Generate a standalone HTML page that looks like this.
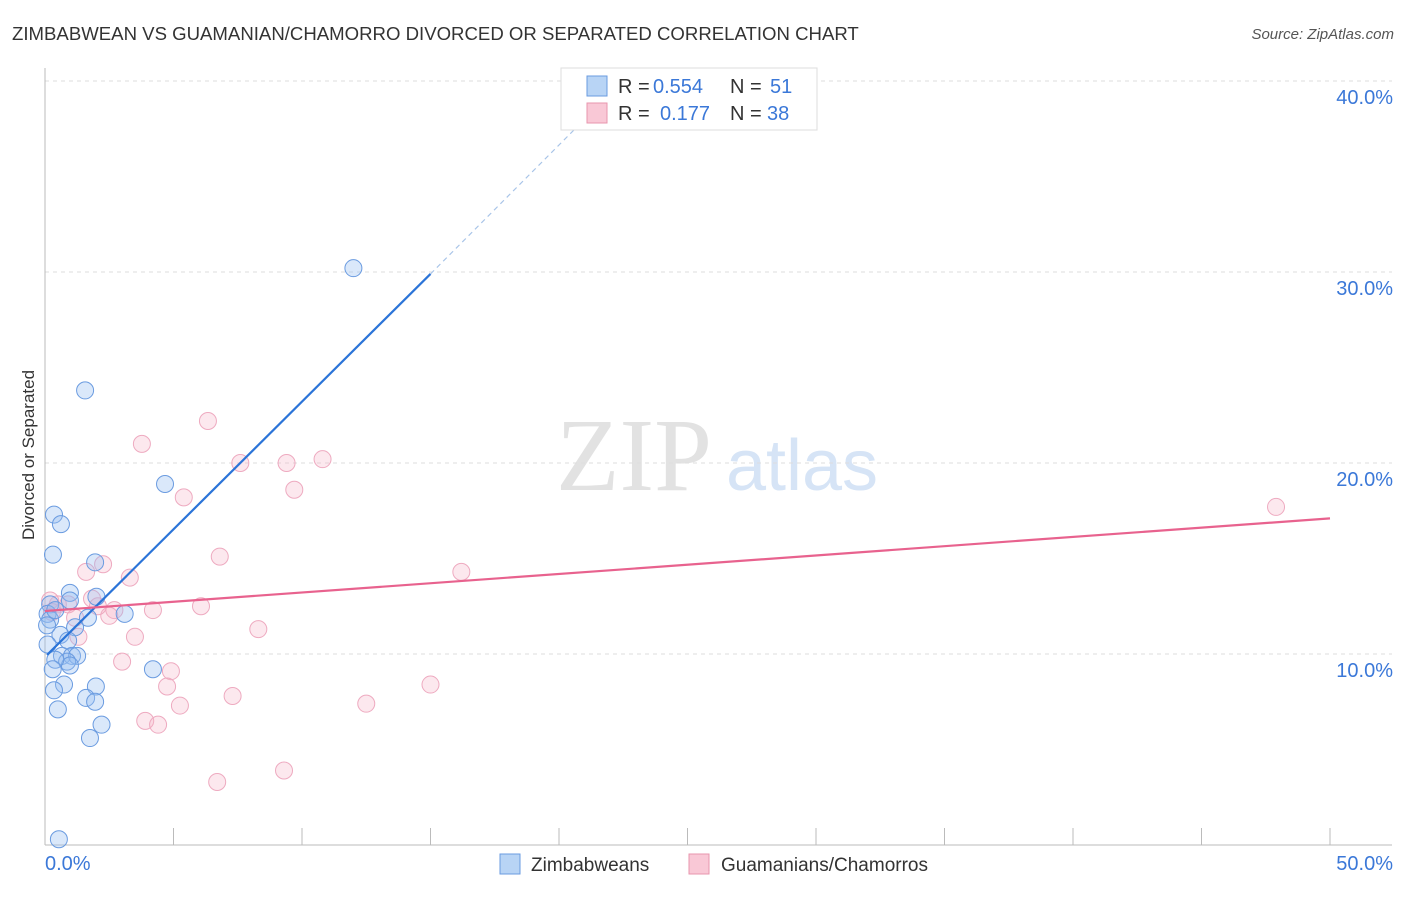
<!DOCTYPE html>
<html><head><meta charset="utf-8"><style>
body{margin:0;background:#fff;font-family:"Liberation Sans",sans-serif}
</style></head><body>
<svg width="1406" height="892" id="chart" style="font-family:'Liberation Sans',sans-serif">
<text x="12" y="40" font-size="18.6" fill="#333">ZIMBABWEAN VS GUAMANIAN/CHAMORRO DIVORCED OR SEPARATED CORRELATION CHART</text>
<text x="1394" y="39" font-size="15" fill="#555" text-anchor="end" font-style="italic">Source: ZipAtlas.com</text>
<text x="634" y="490" font-size="104" fill="#e2e2e2" style="font-family:'Liberation Serif',serif" text-anchor="middle">ZIP</text>
<text x="802" y="490" font-size="72" fill="#d6e4f6" text-anchor="middle">atlas</text>
<text transform="translate(34,455) rotate(-90)" font-size="17" fill="#333" text-anchor="middle">Divorced or Separated</text>
<g id="grid"></g><g id="axes"></g><g id="pts"></g><g id="lines"></g>
<g>
<rect x="561" y="68" width="256" height="62" fill="#fff" stroke="#ddd"/>
<rect x="587" y="76" width="20" height="20" fill="#b8d4f5" stroke="#6a9be0"/>
<rect x="587" y="103" width="20" height="20" fill="#f9c8d6" stroke="#e896ae"/>
<text x="618" y="93" font-size="20" fill="#333">R = <tspan x="653" fill="#3b78d8">0.554</tspan><tspan x="730">N = </tspan><tspan x="770" fill="#3b78d8">51</tspan></text>
<text x="618" y="120" font-size="20" fill="#333">R = <tspan x="660" fill="#3b78d8">0.177</tspan><tspan x="730">N = </tspan><tspan x="767" fill="#3b78d8">38</tspan></text>
</g>
<g>
<rect x="500" y="854" width="20" height="20" fill="#b8d4f5" stroke="#6a9be0"/>
<text x="531" y="871" font-size="19" fill="#333">Zimbabweans</text>
<rect x="689" y="854" width="20" height="20" fill="#f9c8d6" stroke="#e896ae"/>
<text x="721" y="871" font-size="19" fill="#333">Guamanians/Chamorros</text>
</g>
</svg>
<script>
const blueX=[12.0,1.56,4.67,0.35,0.62,0.31,1.95,0.97,2.0,0.97,3.1,1.67,0.2,0.1,0.2,0.4,0.6,1.17,0.9,0.1,0.66,1.05,1.25,0.86,0.97,0.4,0.3,4.2,0.74,1.98,0.35,1.6,1.95,0.5,2.2,1.75,0.54,0.08];
const blueY=[30.2,23.8,18.9,17.3,16.8,15.2,14.8,13.2,13.0,12.8,12.1,11.9,12.6,12.1,11.8,12.3,11.0,11.4,10.7,10.5,9.9,9.9,9.9,9.6,9.4,9.7,9.2,9.2,8.4,8.3,8.1,7.7,7.5,7.1,6.3,5.6,0.3,11.5];
const pinkX=[47.9,6.34,3.77,10.8,7.6,9.4,9.7,5.4,6.8,16.2,1.6,2.26,3.3,1.83,4.2,6.07,2.7,2.5,2.06,0.9,0.5,0.2,1.17,8.3,3.5,1.3,3.0,4.9,4.75,7.3,5.25,15.0,12.5,3.9,4.4,6.7,9.3,0.27];
const pinkY=[17.7,22.2,21.0,20.2,20.0,20.0,18.6,18.2,15.1,14.3,14.3,14.7,14.0,12.9,12.3,12.5,12.3,12.0,12.5,12.6,12.6,12.8,11.9,11.3,10.9,10.9,9.6,9.1,8.3,7.8,7.3,8.4,7.4,6.5,6.3,3.3,3.9,12.2];
const yTicks=[10,20,30,40];
const yTickLabels=["10.0%","20.0%","30.0%","40.0%"];
const xTicks=[0,5,10,15,20,25,30,35,40,45,50];
const blueLine=[[0.08,9.95],[15.0,29.9]];
const blueDash=[[15.0,29.9],[21.0,38.0]];
const pinkLine=[[0,12.25],[50,17.1]];
const X=v=>45+v*25.7, Y=v=>845-v*19.1;
const NS="http://www.w3.org/2000/svg";
function mk(p,t,a){const e=document.createElementNS(NS,t);for(const k in a)e.setAttribute(k,a[k]);document.getElementById(p).appendChild(e);return e;}
yTicks.forEach((t,i)=>{
 let g=mk('grid','line',{x1:45,x2:1392,y1:Y(t),y2:Y(t),stroke:'#ddd','stroke-dasharray':'4,4'});
 
 
 let l=mk('grid','text',{x:1393,y:Y(t)+23,'font-size':20,fill:'#3b78d8','text-anchor':'end'});l.textContent=yTickLabels[i];
 
 
});
let ya=mk('axes','line',{x1:45,x2:45,y1:68,y2:845,stroke:'#bbb'});


let xa=mk('axes','line',{x1:45,x2:1392,y1:845,y2:845,stroke:'#bbb'});


xTicks.forEach(t=>{let k=mk('axes','line',{x1:X(t),x2:X(t),y1:828,y2:845,stroke:'#bbb'});
 
 });
let xl0=mk('axes','text',{x:45,y:870,'font-size':20,fill:'#3b78d8'});xl0.textContent="0.0%";


let xl1=mk('axes','text',{x:1393,y:870,'font-size':20,fill:'#3b78d8','text-anchor':'end'});xl1.textContent="50.0%";


pinkX.forEach((v,i)=>{let c=mk('pts','circle',{cx:X(v),cy:Y(pinkY[i]),r:8.5,fill:'rgba(246,180,200,0.3)',stroke:'#eeaac0','stroke-width':1});
 
 });
blueX.forEach((v,i)=>{let c=mk('pts','circle',{cx:X(v),cy:Y(blueY[i]),r:8.5,fill:'rgba(150,190,240,0.35)',stroke:'#6a9be0','stroke-width':1});
 
 });
let b=mk('lines','line',{x1:X(blueLine[0][0]),y1:Y(blueLine[0][1]),x2:X(blueLine[1][0]),y2:Y(blueLine[1][1]),stroke:'#2b74d8','stroke-width':2.2});


let bd=mk('lines','line',{x1:X(blueDash[0][0]),y1:Y(blueDash[0][1]),x2:X(blueDash[1][0]),y2:Y(blueDash[1][1]),stroke:'#a8c4e8','stroke-width':1.2,'stroke-dasharray':'5,4'});


let p=mk('lines','line',{x1:X(pinkLine[0][0]),y1:Y(pinkLine[0][1]),x2:X(pinkLine[1][0]),y2:Y(pinkLine[1][1]),stroke:'#e8628e','stroke-width':2.2});


</script>
</body></html>
